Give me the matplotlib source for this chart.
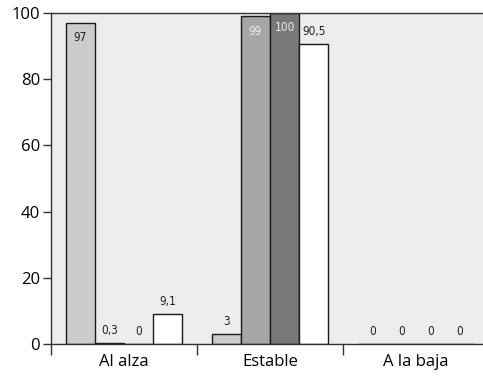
import matplotlib
matplotlib.use("Agg")
import matplotlib.pyplot as plt
import numpy as np

categories = ["Al alza", "Estable", "A la baja"]
series1 = [97, 3, 0]
series2 = [0.3, 99, 0]
series3 = [0, 100, 0]
series4 = [9.1, 90.5, 0]
labels1 = ["97", "3", "0"]
labels2 = ["0,3", "99", "0"]
labels3 = ["0", "100", "0"]
labels4 = ["9,1", "90,5", "0"]
yticks = [0, 20, 40, 60, 80, 100]

series = [series1, series2, series3, series4]
labels = [labels1, labels2, labels3, labels4]
colors = ["#cccccc", "#a6a6a6", "#787878", "#ffffff"]
inside_colors = ["#222222", "#eeeeee", "#eeeeee", "#222222"]

fig = plt.figure(figsize=(4.83, 3.76), dpi=100)
ax = fig.add_axes([51/483, 32/376, 438/483, 331/376])
ax.set_facecolor("#ededed")

w = 0.2
x = np.arange(len(categories))
label_family = ["DejaVu Sans"]
for i, (vals, labs) in enumerate(zip(series, labels)):
    pos = x - 0.4 + w * i + w / 2
    ax.bar(pos, vals, width=w, color=colors[i], edgecolor="#1a1a1a", linewidth=1.0, zorder=2)
    for p, v, t in zip(pos, vals, labs):
        if v > 93:
            ax.text(p, v - 2.5, t, ha="center", va="top", fontsize=8.5,
                    family=label_family, fontstretch="condensed",
                    color=inside_colors[i], zorder=3)
        else:
            ax.text(p, v + 1.8, t, ha="center", va="bottom", fontsize=8.5,
                    family=label_family, fontstretch="condensed",
                    color="#222222", zorder=3)

ax.set_xlim(-0.5, 2.5)
ax.set_ylim(0, 100)
ax.set_yticks(yticks)
ax.set_yticklabels([str(t) for t in yticks], fontsize=12, family=["Open Sans", "DejaVu Sans"])
ax.set_xticks(x)
ax.set_xticklabels(categories, fontsize=12, family=["Open Sans", "DejaVu Sans"])
ax.tick_params(axis="x", length=0, pad=7)
ax.set_xticks([-0.5, 0.5, 1.5], minor=True)
ax.tick_params(axis="x", which="minor", length=8, width=1, direction="out", color="#333333")
ax.tick_params(axis="y", length=6, width=1, direction="out", color="#333333", pad=2)

for s in ["left", "bottom", "top"]:
    ax.spines[s].set_color("#333333")
    ax.spines[s].set_linewidth(1.0)
ax.spines["right"].set_visible(False)

fig.savefig("out.png", dpi=100)
